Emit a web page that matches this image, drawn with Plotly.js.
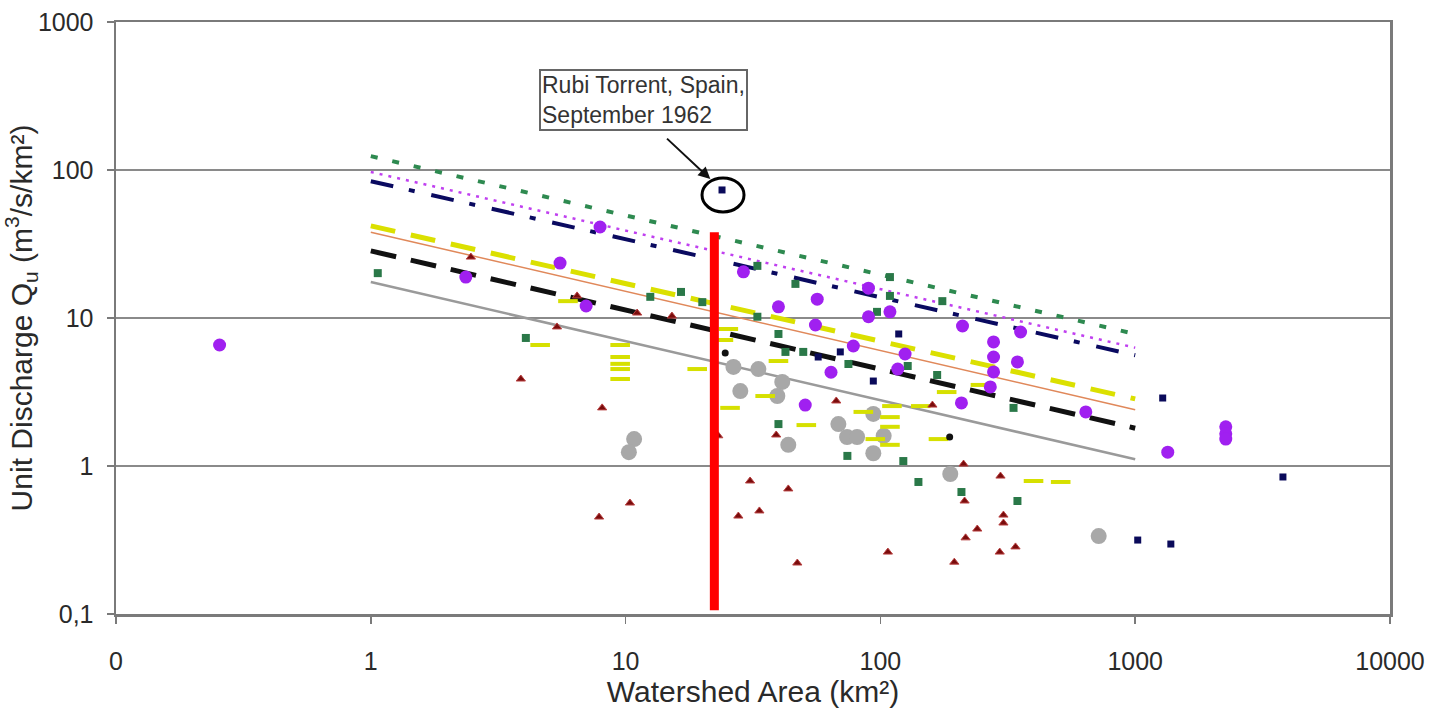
<!DOCTYPE html>
<html>
<head>
<meta charset="utf-8">
<script src="https://cdn.plot.ly/plotly-3.0.1.min.js"></script>
<style>
html,body{margin:0;padding:0;background:#fff;}
#chart{width:1429px;height:708px;}
</style>
</head>
<body>
<div id="chart"></div>
<script>
// ---- envelope lines (x = watershed area, y = unit discharge) ----
const envX = [1, 1000];
const envGreenDot = [124, 7.8];
const envPurpleDot = [97, 6.3];
const envNavyDashDot = [84, 5.6];
const envYellowDash = [41.9, 2.84];
const envOrange = [38, 2.4];
const envBlackDash = [28.4, 1.8];
const envGray = [17.5, 1.11];

// ---- observed points ----
const purpleX = [0.255, 2.36, 5.53, 7.0, 7.94, 29, 39.8, 56.5, 55.6, 89.8, 89.8, 109, 78.3, 125, 117, 64, 50.7, 210, 278, 278, 278, 270, 355, 345, 208, 640, 1342, 2267, 2267, 2267];
const purpleY = [6.57, 18.9, 23.5, 12.05, 41.2, 20.5, 11.9, 13.4, 8.97, 15.9, 10.2, 11.0, 6.47, 5.71, 4.52, 4.3, 2.58, 8.83, 6.89, 5.45, 4.32, 3.42, 8.04, 5.05, 2.67, 2.32, 1.24, 1.84, 1.65, 1.52];

const navyX = [23.9, 118, 93.8, 69.6, 57, 1282, 3800, 1023, 1380];
const navyY = [73.3, 7.8, 3.75, 5.9, 5.45, 2.88, 0.843, 0.316, 0.297];

const greenX = [1.065, 4.06, 12.5, 16.5, 20, 32.9, 32.9, 46.4, 39.8, 42.4, 49.8, 109, 109, 175, 74.9, 97, 128, 167, 333, 39.8, 74.2, 123, 141, 208, 345];
const greenY = [20.1, 7.33, 13.9, 15, 12.8, 22.5, 10.2, 17, 7.8, 5.9, 5.9, 18.9, 14.1, 13.0, 4.89, 11, 4.74, 4.12, 2.47, 1.92, 1.17, 1.08, 0.78, 0.667, 0.58];

const redX = [2.47, 6.45, 11.1, 15.2, 5.38, 3.88, 8.09, 10.4, 7.87, 23.1, 30.8, 43.5, 27.7, 33.5, 47.2, 67.1, 39, 160, 107, 212, 214, 195, 240, 216, 296, 304, 304, 294, 339];
const redY = [25.8, 14.1, 10.8, 10.3, 8.7, 3.87, 2.47, 0.562, 0.452, 1.6, 0.792, 0.70, 0.459, 0.497, 0.221, 2.75, 1.62, 2.58, 0.262, 1.03, 0.58, 0.224, 0.375, 0.327, 0.855, 0.466, 0.412, 0.262, 0.284];

const grayX = [10.8, 10.3, 26.5, 33.2, 28.2, 41.2, 39.4, 43.5, 68.4, 74, 81, 93.8, 103, 93.8, 188, 719];
const grayY = [1.52, 1.24, 4.67, 4.52, 3.21, 3.7, 2.97, 1.39, 1.92, 1.57, 1.57, 2.25, 1.6, 1.22, 0.883, 0.336];

const blackX = [24.6, 187];
const blackY = [5.8, 1.57];

const yellowX = [4.62, 9.52, 9.52, 9.52, 9.52, 9.52, 19.1, 5.94, 25.3, 24.2, 25.7, 39.8, 35.3, 51.2, 85.7, 111, 144, 109, 109, 95.5, 109, 169, 399, 510, 182, 247];
const yellowY = [6.57, 6.57, 5.45, 4.9, 4.52, 3.87, 4.52, 13.0, 8.43, 7.1, 2.47, 5.12, 2.97, 1.89, 2.32, 2.54, 2.54, 2.14, 1.84, 1.52, 1.39, 1.52, 0.792, 0.78, 3.16, 3.53];

// highlighted event and red marker line
const rubiX = 23.9, rubiY = 73.3;
const redLineX = [22.3, 22.3];
const redLineY = [0.106, 38];

// ---- axis tick labels ----
const xTickVals = [0.1, 1, 10, 100, 1000, 10000];
const xTickText = ['0', '1', '10', '100', '1000', '10000'];
const yTickVals = [0.1, 1, 10, 100, 1000];
const yTickText = ['0,1', '1', '10', '100', '1000'];

function envLine(y, color, width, dash) {
  return {x: envX, y: y, mode: 'lines', type: 'scatter', hoverinfo: 'skip',
          line: {color: color, width: width, dash: dash}};
}
function pts(x, y, marker) {
  return {x: x, y: y, mode: 'markers', type: 'scatter', marker: marker};
}

const traces = [
  envLine(envGray, '#9a9a9a', 2.5, 'solid'),
  envLine(envOrange, '#e0885a', 1.5, 'solid'),
  envLine(envBlackDash, '#111111', 5, '26px,15px'),
  envLine(envYellowDash, '#dbe000', 5, '25px,16px'),
  envLine(envNavyDashDot, '#0a0a60', 4, '23px,16px,6px,17px'),
  envLine(envPurpleDot, '#c040f0', 2.5, '3px,6px'),
  envLine(envGreenDot, '#2e8a50', 4, '7px,15px'),
  pts(grayX, grayY, {symbol: 'circle', size: 16, color: '#a8a8a8'}),
  pts(yellowX, yellowY, {symbol: 'line-ew', size: 14, line: {width: 4, color: '#d6e000'}}),
  pts(greenX, greenY, {symbol: 'square', size: 8, color: '#2a7848'}),
  pts(redX, redY, {symbol: 'triangle-up', size: 8, color: '#7a0c0c', line: {width: 1, color: '#b84040'}}),
  pts(navyX, navyY, {symbol: 'square', size: 7, color: '#0a0a5a'}),
  pts(purpleX, purpleY, {symbol: 'circle', size: 13, color: '#a020f0'}),
  pts(blackX, blackY, {symbol: 'circle', size: 7, color: '#111111'}),
  {x: redLineX, y: redLineY, mode: 'lines', type: 'scatter', line: {color: '#ff0000', width: 9}, hoverinfo: 'skip'}
];

const fontFam = 'Liberation Sans, Arial, sans-serif';

// ellipse around the Rubi Torrent point (pixel offsets converted through the log scales)
const pxPerDecX = 254.8, pxPerDecY = 148;
const ringX0 = rubiX * Math.pow(10, -20 / pxPerDecX);
const ringX1 = rubiX * Math.pow(10, 22 / pxPerDecX);
const ringY0 = rubiY * Math.pow(10, -22 / pxPerDecY);
const ringY1 = rubiY * Math.pow(10, 12 / pxPerDecY);

const layout = {
  width: 1429, height: 708,
  margin: {l: 116, r: 39, t: 22, b: 94},
  paper_bgcolor: '#ffffff', plot_bgcolor: '#ffffff',
  showlegend: false,
  font: {family: fontFam, color: '#2a2a2a', size: 25},
  xaxis: {
    type: 'log', range: [-1, 4],
    tickvals: xTickVals, ticktext: xTickText,
    showgrid: false, zeroline: false,
    showline: true, linecolor: '#7a7a7a', linewidth: 2.5, mirror: true,
    ticks: 'outside', ticklen: 7, tickwidth: 1.5, tickcolor: '#7a7a7a',
    ticklabelstandoff: 16,
    tickfont: {size: 25, color: '#2a2a2a'},
    title: {text: 'Watershed Area (km²)', font: {size: 30, color: '#2a2a2a'}, standoff: 3}
  },
  yaxis: {
    type: 'log', range: [-1, 3],
    tickvals: yTickVals, ticktext: yTickText,
    showgrid: true, gridcolor: '#8a8a8a', gridwidth: 1.5, zeroline: false,
    showline: true, linecolor: '#7a7a7a', linewidth: 2.5, mirror: true,
    ticks: 'outside', ticklen: 7, tickwidth: 1.5, tickcolor: '#7a7a7a',
    ticklabelstandoff: 8,
    tickfont: {size: 25, color: '#2a2a2a'},
    title: {text: 'Unit Discharge Q<sub>u</sub> (m<sup>3</sup>/s/km²)', font: {size: 30, color: '#2a2a2a'}, standoff: 0}
  },
  annotations: [
    {
      x: Math.log10(rubiX), y: Math.log10(rubiY), xref: 'x', yref: 'y',
      text: 'Rubi Torrent, Spain,<br>September 1962',
      showarrow: false, xshift: -79, yshift: 90,
      align: 'left', font: {size: 23, color: '#333333', family: fontFam},
      bordercolor: '#666666', borderwidth: 2, borderpad: 1, bgcolor: '#ffffff'
    },
    {
      x: Math.log10(rubiX), y: Math.log10(rubiY), xref: 'x', yref: 'y',
      text: ' ', showarrow: true, ax: -60, ay: -56,
      arrowhead: 2, arrowsize: 1.2, arrowwidth: 2, arrowcolor: '#111111', standoff: 16
    }
  ],
  shapes: [
    {
      type: 'circle', xref: 'x', yref: 'y',
      x0: ringX0, x1: ringX1, y0: ringY0, y1: ringY1,
      line: {color: '#000000', width: 3}
    }
  ]
};

Plotly.newPlot('chart', traces, layout, {staticPlot: true, displayModeBar: false});
</script>
</body>
</html>
